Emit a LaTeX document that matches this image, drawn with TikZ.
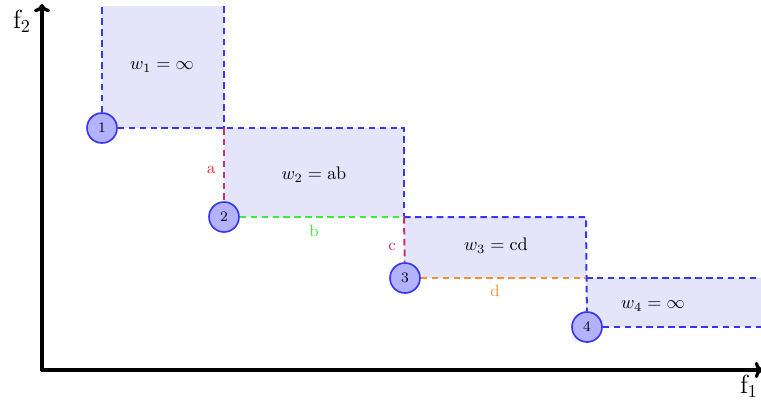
\documentclass[tikz,border=0pt]{standalone}
\usetikzlibrary{arrows.meta}
\definecolor{cellfill}{RGB}{228,228,250}
\definecolor{edgeblue}{RGB}{55,55,240}
\definecolor{dotfill}{RGB}{178,178,255}
\definecolor{acol}{RGB}{200,50,110}
\definecolor{alab}{RGB}{245,40,40}
\definecolor{clab}{RGB}{200,45,100}
\definecolor{bcol}{RGB}{60,235,60}
\definecolor{dcol}{RGB}{240,145,50}
\tikzset{
  cell/.style={fill=cellfill, draw=none},
  frontier/.style={draw=edgeblue, line width=1.1pt, dash pattern=on 3.6pt off 2.4pt},
  seg/.style={line width=1.1pt, dash pattern=on 3.6pt off 2.4pt},
  pt/.style={circle, draw=edgeblue, fill=dotfill, line width=0.9pt,
             minimum size=16.5pt, inner sep=0pt, font=\footnotesize},
  axis/.style={line width=1.8pt, -{To[length=4.5pt,width=9pt]}},
  wlab/.style={font=\normalsize},
  elab/.style={font=\small},
}
\begin{document}
\begin{tikzpicture}[x=0.55pt, y=-0.55pt]
\useasboundingbox (0,0) rectangle (761,400);

% dominated cells
\fill[cellfill] (102,6) rectangle (224,128);
\fill[cellfill] (224,128) rectangle (404,217);
\fill[cellfill] (404,217) rectangle (586,278);
\fill[cellfill] (586,278) rectangle (761,327);

% staircase corners
\coordinate (t1) at (102,6);
\coordinate (t2) at (224,6);
\coordinate (c12) at (224,128);
\coordinate (r1) at (404,128);
\coordinate (c23) at (404,217);
\coordinate (r2) at (586,217);
\coordinate (c34) at (586,278);
\coordinate (r3) at (761,278);
\coordinate (r4) at (761,327);

% axes
\coordinate (o) at (42,370);
\coordinate (ytop) at (42,4);
\coordinate (xend) at (763,370);
\draw[axis] (42,371) -- (ytop);
\draw[axis] (41,370) -- (xend);
\node[font=\Large] (f2) at (22,21) {$\mathrm{f}_2$};
\node[font=\Large] (f1) at (749,386) {$\mathrm{f}_1$};

% points
\node[pt] (p1) at (102,128) {$1$};
\node[pt] (p2) at (224,217) {$2$};
\node[pt] (p3) at (405,278) {$3$};
\node[pt] (p4) at (587,327) {$4$};

% blue frontier
\draw[frontier] (p1) -- (t1);
\draw[frontier] (t2) -- (c12);
\draw[frontier] (p1) -- (r1) -- (c23);
\draw[frontier] (c23) -- (r2) -- (p4);
\draw[frontier] (c34) -- (r3);
\draw[frontier] (p4) -- (r4);

% coloured sides
\draw[seg, draw=acol] (c12) -- (p2);
\draw[seg, draw=bcol] (p2) -- (c23);
\draw[seg, draw=acol] (c23) -- (p3);
\draw[seg, draw=dcol] (p3) -- (c34);

% side labels
\node[elab, text=alab] (la) at (211,170) {$\mathrm{a}$};
\node[elab, text=bcol] (lb) at (314,231) {$\mathrm{b}$};
\node[elab, text=clab] (lc) at (392,247) {$\mathrm{c}$};
\node[elab, text=dcol] (ld) at (495,291) {$\mathrm{d}$};

% weights
\node[wlab] (w1) at (162,67) {$w_1 = \infty$};
\node[wlab] (w2) at (314,175) {$w_2 = \mathrm{ab}$};
\node[wlab] (w3) at (496,246) {$w_3 = \mathrm{cd}$};
\node[wlab] (w4) at (653,306) {$w_4 = \infty$};
\end{tikzpicture}
\end{document}
